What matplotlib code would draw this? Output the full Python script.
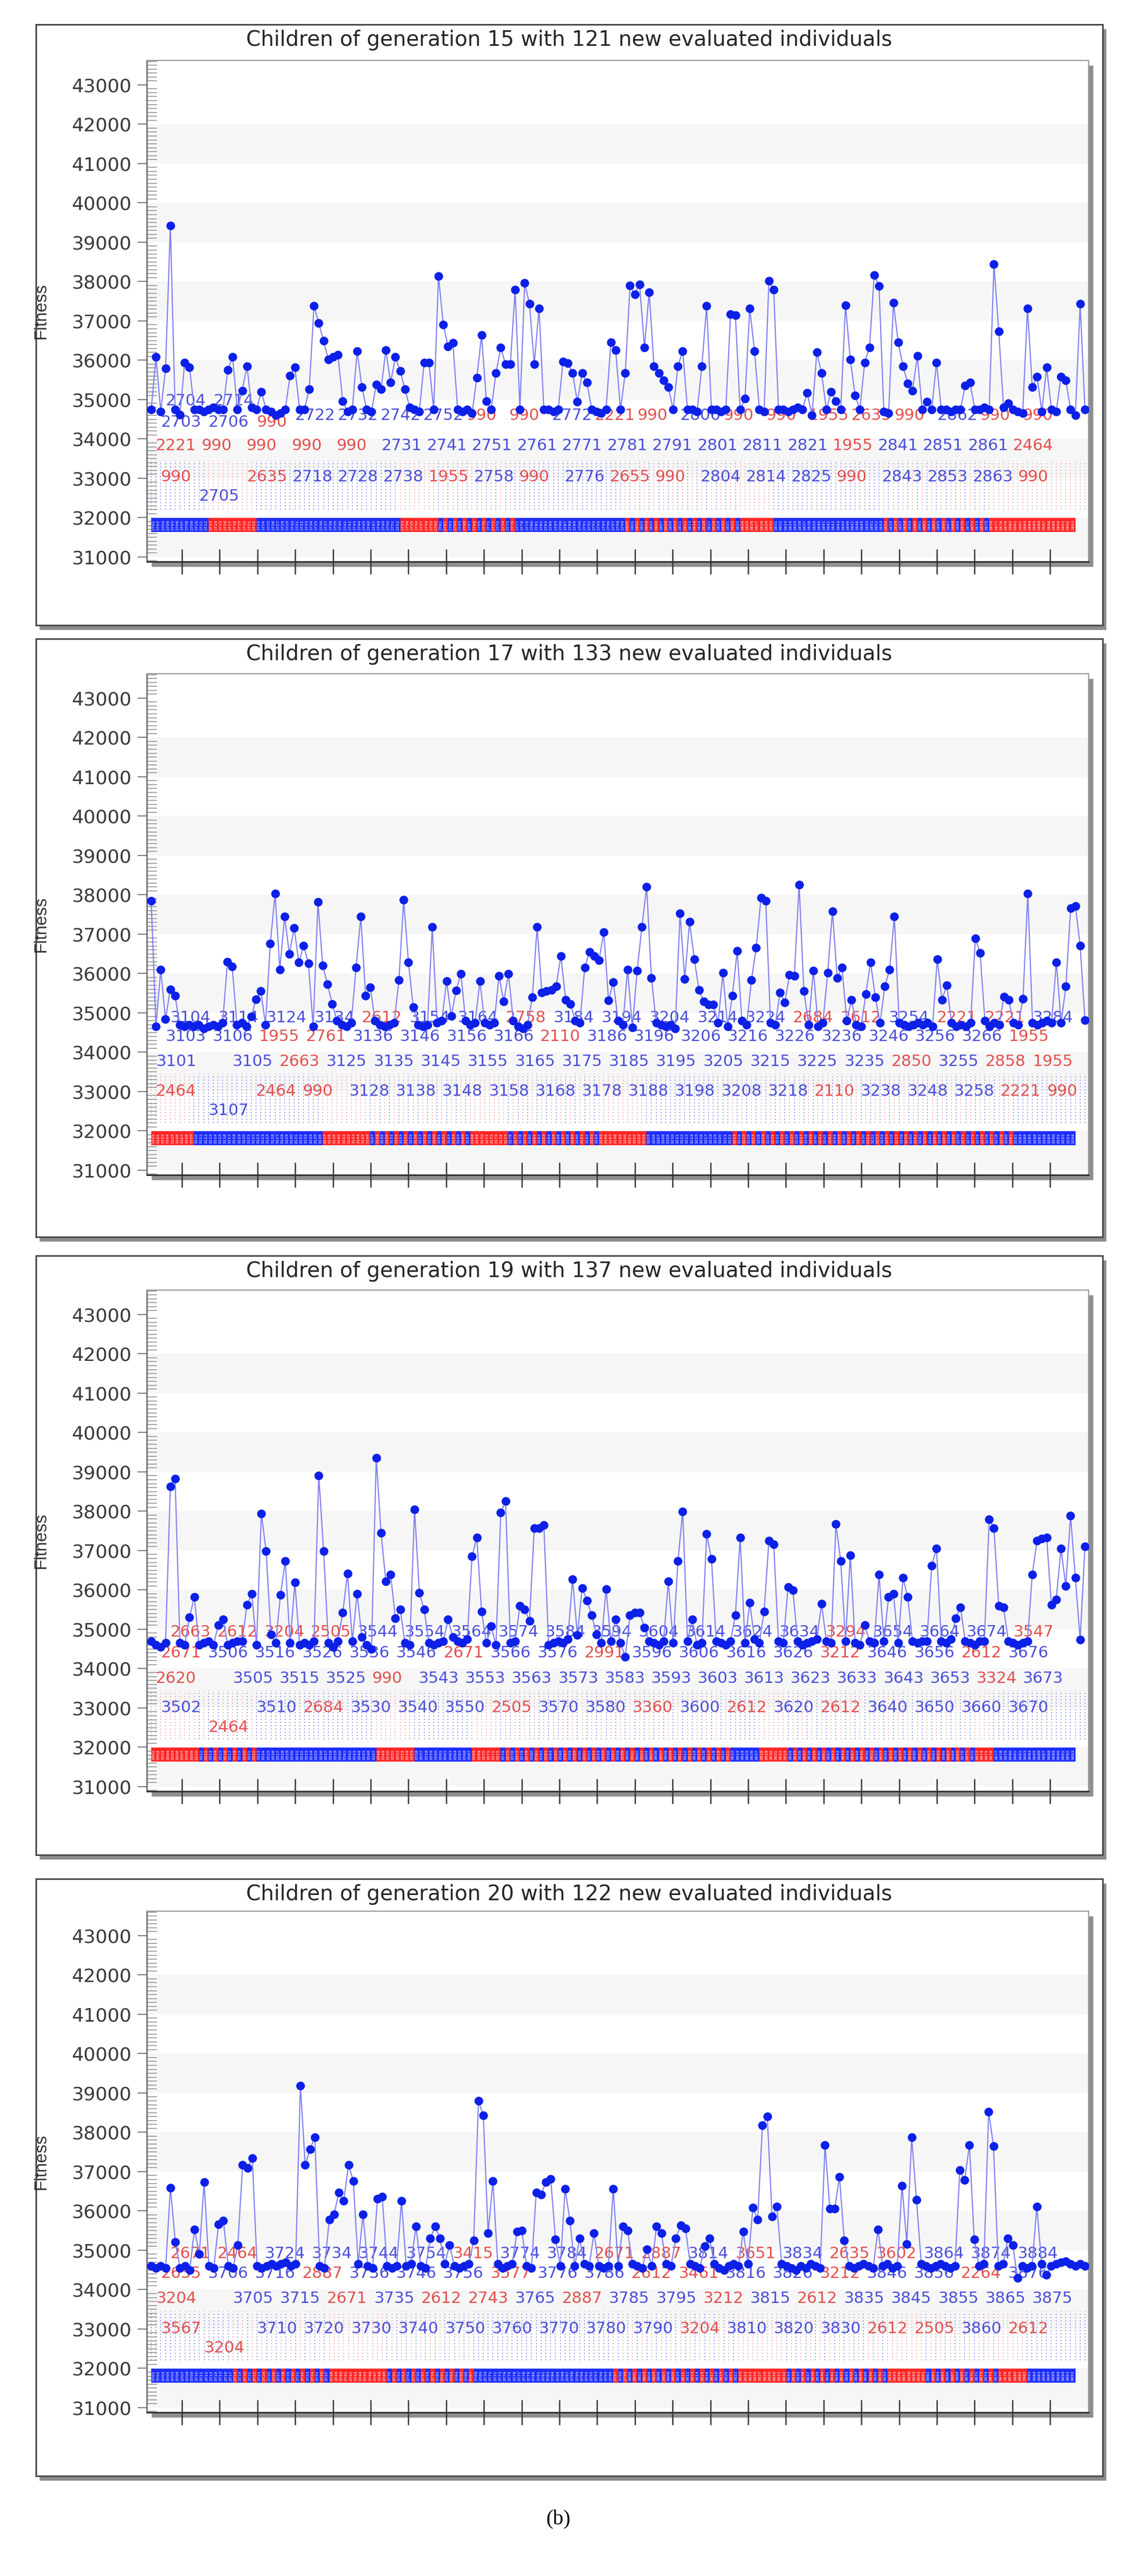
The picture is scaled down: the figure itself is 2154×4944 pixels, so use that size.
import numpy as np
import matplotlib.pyplot as plt
from matplotlib.patches import Rectangle
from matplotlib.ticker import MultipleLocator

W, H = 2154, 4944

titles = [
    "Children of generation 15 with 121 new evaluated individuals",
    "Children of generation 17 with 133 new evaluated individuals",
    "Children of generation 19 with 137 new evaluated individuals",
    "Children of generation 20 with 122 new evaluated individuals",
]

# fitness of every plotted individual
gen15_fitness = [
    34750, 36080, 34700, 35790, 39420, 34750, 34610, 35940, 35820, 34750,
    34750, 34700, 34750, 34800, 34750, 34750, 35760, 36080, 34750, 35230,
    35850, 34800, 34750, 35200, 34750, 34700, 34600, 34650, 34750, 35610,
    35820, 34750, 34750, 35260, 37380, 36940, 36490, 36020, 36080, 36140,
    34960, 34700, 34750, 36230, 35320, 34750, 34700, 35380, 35260, 36260,
    35430, 36080, 35730, 35260, 34800, 34750, 34700, 35940, 35940, 34750,
    38140, 36910, 36350, 36440, 34750, 34700, 34750, 34650, 35550, 36640,
    34960, 34750, 35670, 36320, 35900, 35900, 37790, 34750, 37960, 37430,
    35900, 37320, 34750, 34750, 34700, 34750, 35960, 35930, 35670, 34940,
    35670, 35430, 34750, 34700, 34650, 34750, 36460, 36260, 34750, 35670,
    37900, 37670, 37930, 36320, 37730, 35850, 35670, 35490, 35320, 34750,
    35850, 36230, 34750, 34750, 34700, 35850, 37380, 34750, 34750, 34700,
    34750, 37170, 37140, 34750, 35020, 37320, 36230, 34750, 34700, 38020,
    37790, 34750, 34750, 34700, 34750, 34800, 34750, 35170, 34600, 36200,
    35670, 34750, 35200, 34960, 34750, 37400, 36020, 35110, 34750, 35940,
    36320, 38170, 37880, 34700, 34650, 37460, 36460, 35850, 35410, 35230,
    36110, 34750, 34940, 34750, 35940, 34750, 34750, 34700, 34750, 34750,
    35350, 35430, 34750, 34750, 34800, 34750, 38440, 36730, 34800, 34900,
    34750, 34700, 34650, 37320, 35320, 35580, 34700, 35820, 34750, 34700,
    35580, 35490, 34750, 34600, 37430, 34750,
]
gen17_fitness = [
    37840, 34650, 36100, 34835, 35600, 35440, 34700, 34650, 34700, 34650,
    34700, 34600, 34650, 34700, 34650, 34750, 36290, 36180, 34700, 34750,
    34650, 34900, 35340, 35550, 34700, 36760, 38025, 36100, 37445, 36500,
    37155, 36285, 36705, 36260, 34650, 37815, 36206, 35730, 35230, 34800,
    34700, 34650, 34750, 36150, 37445, 35440, 35650, 34800, 34700, 34650,
    34700, 34750, 35835, 37870, 36285, 35150, 34700, 34650, 34700, 37180,
    34750, 34800, 35810, 34915, 35570, 35995, 34800, 34700, 34750, 35810,
    34750, 34700, 34750, 35940, 35284, 35995, 34800, 34650, 34600, 34700,
    35390, 37180, 35520, 35550, 35575, 35680, 36444, 35335, 35230, 34800,
    34750, 36150, 36550, 36444, 36340, 37050, 35310, 35785, 34800, 34700,
    36100, 34625, 36075, 37180, 38210, 35890, 34750, 34700, 34650, 34700,
    34600, 37525, 35860, 37315, 36365, 35575, 35285, 35205, 35205, 34750,
    36020, 34650, 35440, 36575, 34800, 34700, 35835, 36655, 37920, 37840,
    34750, 34700, 35520, 35260, 35970, 35940, 38263, 35550, 34700, 36075,
    34650, 34750, 36020, 37577, 35890, 36155, 34800, 35335, 34700, 34650,
    35470, 36285, 35390, 34750, 35680, 36100, 37445, 34750, 34700, 34650,
    34700, 34750, 34700, 34750, 34650, 36365, 35335, 35705, 34750, 34650,
    34700, 34650, 34750, 36890, 36520, 34800, 34650, 34750, 34700, 35415,
    35335, 34750, 34700, 35360, 38025, 34750, 34700, 34750, 34800, 34750,
    36285, 34750, 35680, 37655, 37710, 36707, 34810,
]
gen19_fitness = [
    34700, 34600, 34550, 34650, 38624, 38825, 34650, 34600, 35300, 35820,
    34600, 34650, 34700, 34600, 35100, 35245, 34600, 34650, 34700, 34700,
    35616, 35900, 34600, 37937, 36990, 34870, 34650, 35875, 36734, 34650,
    36190, 34600, 34650, 34600, 34700, 38911, 36990, 34650, 34550, 34700,
    35416, 36420, 34700, 35903, 34800, 34600, 34500, 39352, 37450, 36218,
    36390, 35273, 35500, 34650, 34600, 38050, 35930, 35500, 34650, 34600,
    34650, 34700, 35245, 34800, 34700, 34650, 34750, 36848, 37335, 35445,
    34650, 35072, 34600, 37965, 38252, 34650, 34700, 35590, 35500, 35215,
    37565, 37565, 37650, 34600, 34650, 34700, 34650, 34750, 36275, 34850,
    36046, 35730, 35360, 34870, 34650, 36017, 34700, 35245, 34650, 34300,
    35360, 35416, 35416, 35044, 34700, 34650, 34600, 34700, 36218, 34650,
    36734, 37994, 34700, 35245, 34600, 34650, 37421, 36791, 34700, 34650,
    34600, 34700, 35360, 37335, 34650, 35674, 34750, 34650, 35445, 37249,
    37163, 34700, 34650, 36075, 35989, 34700, 34600, 34650, 34700, 34750,
    35645, 34700, 34650, 37679, 36734, 34700, 36877, 34650, 34600, 35101,
    34700, 34650, 36390, 34700, 35817, 35903, 34650, 36304, 35817, 34700,
    34650, 34700, 34700, 36620, 37048, 34700, 34650, 34750, 35273, 35560,
    34700, 34650, 34600, 34700, 34700, 37794, 37565, 35588, 35560, 34700,
    34650, 34600, 34650, 34700, 36390, 37249, 37307, 37335, 35617, 35760,
    37048, 36104, 37880, 36304, 34728, 37106,
]
gen20_fitness = [
    34600, 34550, 34600, 34550, 36587, 35217, 34550, 34600, 34500, 35525,
    34910, 36727, 34600, 34550, 35665, 35748, 34600, 34550, 35133, 37174,
    37090, 37341, 34600, 34550, 34600, 34650, 34600, 34650, 34700, 34600,
    34650, 39186, 37174, 37565, 37873, 34600, 34550, 35776, 35916, 36475,
    36251, 37174, 36754, 34650, 35916, 34600, 34550, 36307, 36363, 34600,
    34550, 34600, 36251, 34600, 34650, 35609, 34600, 34550, 35301, 35609,
    35301, 34650, 35133, 34600, 34550, 34600, 34650, 35245, 38795, 38431,
    35441, 36754, 34650, 34550, 34600, 34650, 35469, 35497, 34600, 34550,
    36475, 36419, 36727, 36810, 35273, 34600, 36559, 35748, 34600, 35301,
    34650, 34600, 35441, 34600, 34550, 34600, 36559, 34600, 35609, 35497,
    34650, 34600, 34550, 35021, 34600, 35609, 35441, 34650, 34600, 35301,
    35637, 35553, 34650, 34600, 34550, 35105, 35301, 34650, 34550, 34500,
    34600, 34650, 34600, 35469, 34650, 36083, 35776, 38180, 38403, 35860,
    36111, 34650, 34600, 34550, 34500, 34600, 34550, 34650, 34600, 34550,
    37677, 36055, 36055, 36866, 35245, 34600, 34550, 34600, 34650, 34600,
    34550, 35525, 34600, 34650, 34550, 34600, 36643, 35161, 37873, 36279,
    34650, 34600, 34550, 34600, 34650, 34600, 34550, 34600, 37034, 36782,
    37677, 35273, 34600, 34650, 38515, 37649, 34600, 34650, 35301, 35133,
    34295, 34600, 34550, 34600, 36111, 34650, 34379, 34600, 34650, 34700,
    34715, 34650, 34600, 34650, 34600,
]

# label rows: (fitness level, first index, last index, labels, colours b/r)
gen15_rows = [
    (34960, 3, 13, "2704 2714", "bb"),
    (34420, 2, 22, "2703 2706 990", "bbr"),
    (34600, 30, 182, "2722 2732 2742 2752 990 990 2772 2221 990 2806 990 990 1955 2635 990 2862 990 990",
     "bbbbrrbrrbrrrrrbrr"),
    (33830, 1, 180, "2221 990 990 990 990 2731 2741 2751 2761 2771 2781 2791 2801 2811 2821 1955 2841 2851 2861 2464",
     "rrrrrbbbbbbbbbbrbbbr"),
    (33030, 2, 2, "990", "r"),
    (33030, 20, 181, "2635 2718 2728 2738 1955 2758 990 2776 2655 990 2804 2814 2825 990 2843 2853 2863 990",
     "rbbbrbrbrrbbbrbbbr"),
    (32540, 10, 10, "2705", "b"),
]
gen17_rows = [
    (34870, 4, 185, "3104 3114 3124 3134 2612 3154 3164 2758 3184 3194 3204 3214 3224 2684 2612 3254 2221 2221 3284",
     "bbbbrbbrbbbbbrrbrrb"),
    (34400, 3, 180, "3103 3106 1955 2761 3136 3146 3156 3166 2110 3186 3196 3206 3216 3226 3236 3246 3256 3266 1955",
     "bbrrbbbbrbbbbbbbbbr"),
    (33760, 1, 1, "3101", "b"),
    (33760, 17, 185, "3105 2663 3125 3135 3145 3155 3165 3175 3185 3195 3205 3215 3225 3235 2850 3255 2858 1955",
     "brbbbbbbbbbbbbrbrr"),
    (33010, 1, 1, "2464", "r"),
    (33010, 22, 188, "2464 990 3128 3138 3148 3158 3168 3178 3188 3198 3208 3218 2110 3238 3248 3258 2221 990",
     "rrbbbbbbbbbbrbbbrr"),
    (32520, 12, 12, "3107", "b"),
]
gen19_rows = [
    (34930, 4, 180, "2663 2612 3204 2505 3544 3554 3564 3574 3584 3594 3604 3614 3624 3634 3294 3654 3664 3674 3547",
     "rrrrbbbbbbbbbbrbbbr"),
    (34390, 2, 179, "2671 3506 3516 3526 3536 3546 2671 3566 3576 2991 3596 3606 3616 3626 3212 3646 3656 2612 3676",
     "rbbbbbrbbrbbbbrbbrb"),
    (33750, 1, 1, "2620", "r"),
    (33750, 17, 182, "3505 3515 3525 990 3543 3553 3563 3573 3583 3593 3603 3613 3623 3633 3643 3653 3324 3673",
     "bbbrbbbbbbbbbbbbrb"),
    (33010, 2, 2, "3502", "b"),
    (33010, 22, 179, "3510 2684 3530 3540 3550 2505 3570 3580 3360 3600 2612 3620 2612 3640 3650 3660 3670",
     "brbbbrbbrbrbrbbbb"),
    (32500, 12, 12, "2464", "r"),
]
gen20_rows = [
    (34910, 4, 180, "2671 2464 3724 3734 3744 3754 3415 3774 3784 2671 2887 3814 3651 3834 2635 3602 3864 3874 3884",
     "rrbbbbrbbrrbrbrrbbb"),
    (34410, 2, 178, "2635 3706 3716 2887 3736 3746 3756 3577 3776 3786 2612 3461 3816 3826 3212 3846 3856 2264 3876",
     "rbbrbbbrbbrrbbrbbrb"),
    (33770, 1, 1, "3204", "r"),
    (33770, 17, 183, "3705 3715 2671 3735 2612 2743 3765 2887 3785 3795 3212 3815 2612 3835 3845 3855 3865 3875",
     "bbrbrrbrbbrbrbbbbb"),
    (33010, 2, 2, "3567", "r"),
    (33010, 22, 178, "3710 3720 3730 3740 3750 3760 3770 3780 3790 3204 3810 3820 3830 2612 2505 3860 2612",
     "bbbbbbbbbrbbbrrbr"),
    (32510, 11, 11, "3204", "r"),
]

# colour runs of the crowded id strip at the bottom (b, r, m = mixed)
gen15_band = [(12, 'b'), (10, 'r'), (30, 'b'), (8, 'r'), (16, 'm'), (22, 'b'), (26, 'm'),
              (6, 'r'), (22, 'b'), (23, 'm'), (21, 'r')]
gen17_band = [(9, 'r'), (27, 'b'), (10, 'r'), (21, 'm'), (8, 'r'), (20, 'm'), (9, 'r'),
              (17, 'b'), (61, 'm'), (15, 'b')]
gen19_band = [(10, 'r'), (13, 'm'), (24, 'b'), (8, 'r'), (12, 'b'), (6, 'r'), (48, 'm'),
              (6, 'b'), (6, 'r'), (40, 'm'), (3, 'r'), (20, 'b')]
gen20_band = [(16, 'b'), (22, 'm'), (11, 'r'), (18, 'm'), (28, 'b'), (27, 'm'), (10, 'r'),
              (22, 'm'), (7, 'r'), (15, 'm'), (6, 'r'), (13, 'b')]

first_ids = [2701, 3101, 3501, 3701]
y_ticks = list(range(31000, 43001, 1000))

# ---------------------------------------------------------------- layout
frames = [(69, 47, 2115, 1200), (69, 1226, 2115, 2374), (69, 2410, 2115, 3560), (69, 3606, 2115, 4752)]
plot_tops = [116, 1293, 2476, 3668]
PL, PR, PH = 282, 2088, 962
FIRST_PX, LAST_PX = 290, 2081

LBL_C = {'b': '#4b50d8', 'r': '#e2514f'}
BAND_TXT = {'b': '#aab2ff', 'r': '#ffb4b4'}
BAR_C = {'b': '#1f2eff', 'r': '#ff2626'}
DOT_C = {'b': '#8a90e6', 'r': '#f0a8a8'}


def px_box(x0, y0, x1, y1):
    return [x0 / W, 1 - y1 / H, (x1 - x0) / W, (y1 - y0) / H]


def add_box(x0, y0, x1, y1, **kw):
    b = px_box(x0, y0, x1, y1)
    fig.add_artist(Rectangle((b[0], b[1]), b[2], b[3], transform=fig.transFigure, **kw))


def expand_runs(runs):
    out = []
    for n, c in runs:
        if c == 'm':
            out += ['r' if k % 2 else 'b' for k in range(n)]
        else:
            out += [c] * n
    return out


fig = plt.figure(figsize=(W / 100, H / 100), dpi=100)

panels = zip(titles, [gen15_fitness, gen17_fitness, gen19_fitness, gen20_fitness],
             [gen15_rows, gen17_rows, gen19_rows, gen20_rows],
             [gen15_band, gen17_band, gen19_band, gen20_band], first_ids, frames, plot_tops)

for title, fit, rows, band, fid, frame, top in panels:
    x0, y0, x1, y1 = frame
    # panel frame with drop shadow, then the shadow under the plot box
    add_box(x0 + 7, y0 + 9, x1 + 7, y1 + 9, facecolor='#8c8c8c', edgecolor='none', zorder=-6)
    add_box(x0, y0, x1, y1, facecolor='white', edgecolor='#4a4a4a', linewidth=2.2, zorder=-5)
    add_box(PL + 9, top + 10, PR + 9, top + PH + 10, facecolor='#8f8f8f', edgecolor='none', zorder=-4)

    fig.text((x0 + x1) / 2 / W, 1 - (y0 + 30) / H, title, ha='center', va='center',
             fontsize=29, color='#262626')

    ax = fig.add_axes(px_box(PL, top, PR, top + PH))
    n = len(fit)
    idx = np.arange(n)
    step = (LAST_PX - FIRST_PX) / (n - 1)
    xlo, xhi = -(FIRST_PX - PL) / step, (n - 1) + (PR - LAST_PX) / step
    ax.set_xlim(xlo, xhi)
    ax.set_ylim(30880, 43620)

    for lo in y_ticks[:-1:2]:
        ax.axhspan(lo, lo + 1000, color='#f6f6f6', zorder=0, lw=0)

    cols = expand_runs(band)
    ax.vlines(idx, 32200, 33450, colors=[DOT_C[c] for c in cols], linestyles=(0, (1, 2.2)),
              linewidth=1.4, zorder=1)

    for level, i0, i1, labels, colors in rows:
        labels = labels.split()
        for xpos, t, c in zip(np.linspace(i0, i1, len(labels)), labels, colors):
            ax.text(xpos, level, t, color=LBL_C[c], fontsize=22, ha='left', va='center', zorder=2)

    # crowded id strip: one narrow upright id per individual on a coloured bar
    nb = n - 3
    ax.bar(idx[:nb] + 0.5, 360, bottom=31630, width=1.0,
           color=[BAR_C[c] for c in cols[:nb]], linewidth=0, zorder=2)
    for i, c in enumerate(cols[:nb]):
        ax.text(i + 0.5, 31810, str(fid + i), color=BAND_TXT[c], fontsize=5.2, fontweight='bold',
                rotation=90, ha='center', va='center', zorder=2)

    ax.plot(idx, fit, '-', color='#8080f2', lw=1.6, zorder=3)
    ax.plot(idx, fit, 'o', ms=11, color='#0c20e8', mec='#0c20e8', zorder=4)

    ax.set_yticks(y_ticks)
    ax.set_yticklabels([str(v) for v in y_ticks], fontsize=26, color='#3a3a3a')
    ax.yaxis.set_minor_locator(MultipleLocator(100))
    ax.tick_params(axis='y', which='major', direction='out', length=13, width=1.4,
                   color='#777777', pad=8.5)
    ax.tick_params(axis='y', which='minor', direction='in', length=14, width=1.1, color='#8a8a8a')

    fr = 0.0371 + 0.04009 * np.arange(24)
    ax.set_xticks(xlo + fr * (xhi - xlo))
    ax.tick_params(axis='x', which='major', direction='inout', length=34, width=1.8,
                   color='#333333', labelbottom=False)
    ax.tick_params(axis='x', which='minor', bottom=False)

    ax.spines['left'].set_color('#555555')
    ax.spines['left'].set_linewidth(1.6)
    ax.spines['bottom'].set_color('#333333')
    ax.spines['bottom'].set_linewidth(2.2)
    for side in ('top', 'right'):
        ax.spines[side].set_color('#9a9a9a')
        ax.spines[side].set_linewidth(1.6)

    ax.set_ylabel('Fitness', fontsize=24, family=['Liberation Sans Narrow', 'Liberation Sans'],
                  color='#333333')
    ax.yaxis.set_label_coords((94 - PL) / (PR - PL), 0.5)

fig.text(1071 / W, 1 - 4836 / H, '(b)', ha='center', va='center', fontsize=29,
         family=['Liberation Serif', 'DejaVu Serif'], color='black')

fig.savefig('out.png', dpi=100, facecolor='white')
